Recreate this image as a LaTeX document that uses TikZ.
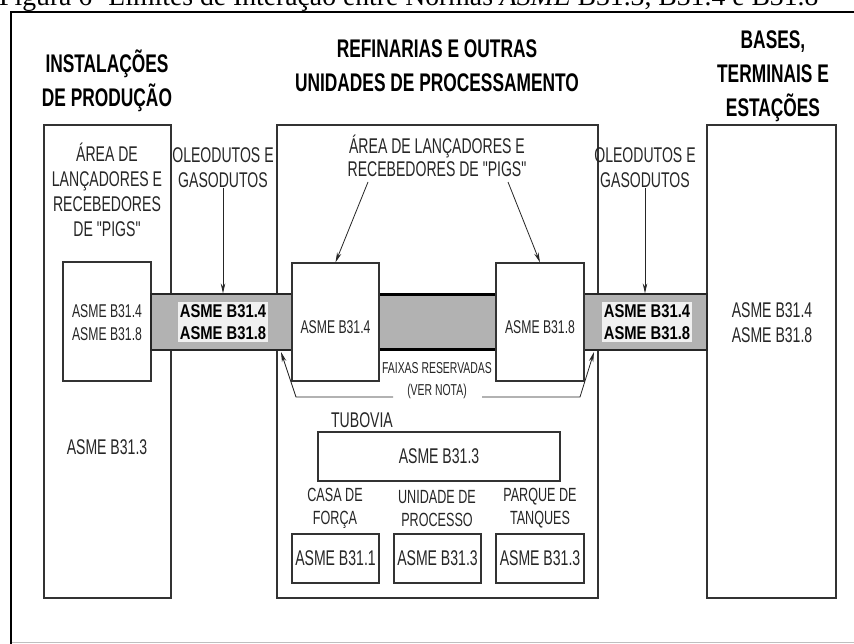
\documentclass[tikz,border=0pt]{standalone}
\usepackage{fontspec}
\setmainfont{Liberation Serif}
\newfontfamily\condsf[FakeStretch=0.66]{Liberation Sans}
\newfontfamily\headsf[FakeStretch=0.68]{Liberation Sans}
\newfontfamily\bandsf[FakeStretch=0.8]{Liberation Sans}
\usetikzlibrary{arrows.meta}

\tikzset{
    box/.style={draw=black!80, line width=1.2pt, fill=white, inner sep=0pt},
    band/.style={draw=black!85, line width=1.2pt, fill=black!30, inner sep=0pt},
    lbl/.style={font=\condsf\fontsize{21.3}{25}\selectfont, align=center, inner sep=0pt, text=black!85},
    smalllbl/.style={font=\condsf\fontsize{18.5}{23}\selectfont, align=center, inner sep=0pt, text=black!85},
    unitlbl/.style={font=\condsf\fontsize{19.1}{23}\selectfont, align=center, inner sep=0pt, text=black!85},
    head/.style={font=\headsf\bfseries\fontsize{25.5}{34}\selectfont, align=center, inner sep=0pt},
    bandlbl/.style={font=\bandsf\bfseries\fontsize{18.5}{22}\selectfont, align=center, fill=black!6, inner sep=2pt},
    arr/.style={-{Stealth[length=10pt,width=4.5pt]}, line width=0.8pt, black!85},
}

\begin{document}
\begin{tikzpicture}[x=1pt, y=-1pt]

    \useasboundingbox (0,0) rectangle (854,644);
    \clip (0,0) rectangle (854,644);

    % Caption and outer frame
    \node[anchor=base west, inner sep=0pt, font=\fontsize{27.7}{30}\selectfont] (caption) at (-1,6)
        {Figura 6- Limites de Interação entre Normas \textit{ASME} B31.3, B31.4 e B31.8};
    \draw[black!25] (11,642) -- (860,642);
    \draw[line width=2pt] (11,650) |- (860,12);

    % Headings of the three areas
    \node[head] (prodhead) at (107,81) {INSTALAÇÕES\\DE PRODUÇÃO};
    \node[head] (refihead) at (437,66) {REFINARIAS E OUTRAS\\UNIDADES DE PROCESSAMENTO};
    \node[head] (basehead) at (773,76) {BASES,\\TERMINAIS E\\ESTAÇÕES};

    % Big boxes
    \node[box, minimum width=127, minimum height=473] (prod) at (107.5,361.5) {};
    \node[box, minimum width=321, minimum height=473] (refi) at (437.5,361.5) {};
    \node[box, minimum width=129, minimum height=473] (base) at (771.5,361.5) {};
    \node[box, minimum width=88, minimum height=119] (prodpig) at (107,321.5) {};

    % Pipeline bands
    \node[band, minimum width=142, minimum height=56] (bandL) at (222,322) {};
    \node[band, minimum width=123, minimum height=56] (bandR) at (645.5,322) {};
    \node[band, draw=none, minimum width=117, minimum height=54] (bandM) at (437.5,322) {};
    \draw[line width=2.6pt] (bandM.north west) -- (bandM.north east);
    \draw[line width=2.6pt] (bandM.south west) -- (bandM.south east);
    \node[bandlbl] (bandLtxt) at (223,322) {ASME B31.4\\ASME B31.8};
    \node[bandlbl] (bandRtxt) at (647,322) {ASME B31.4\\ASME B31.8};

    % Pig launcher boxes in the refinery
    \node[box, minimum width=87, minimum height=118] (b314) at (335.5,322) {};
    \node[box, minimum width=88, minimum height=118] (b318) at (540,322) {};
    \node[smalllbl] (b314txt) at (335.5,327) {ASME B31.4};
    \node[smalllbl] (b318txt) at (540,327) {ASME B31.8};

    % Labels
    \node[lbl] (prodpigtxt) at (107,190) {ÁREA DE\\LANÇADORES E\\RECEBEDORES\\DE "PIGS"};
    \node[smalllbl] (prodpigasme) at (107,323) {ASME B31.4\\ASME B31.8};
    \node[lbl] (prodasme) at (107,447) {ASME B31.3};
    \node[lbl] (oleoL) at (223,167.5) {OLEODUTOS E\\GASODUTOS};
    \node[lbl] (oleoR) at (645,167.5) {OLEODUTOS E\\GASODUTOS};
    \node[lbl, font=\condsf\fontsize{21.3}{23}\selectfont] (refipig) at (437,156) {ÁREA DE LANÇADORES E\\RECEBEDORES DE "PIGS"};
    \node[lbl] (baseasme) at (772,323) {ASME B31.4\\ASME B31.8};
    \node[lbl, font=\condsf\fontsize{15.8}{22}\selectfont] (faixas) at (437,381) {FAIXAS RESERVADAS\\(VER NOTA)};

    % Pipe rack and units
    \node[lbl] (tubovia) at (362,420) {TUBOVIA};
    \node[box, minimum width=242, minimum height=49] (tubo) at (439,456.5) {};
    \node[lbl] (tubotxt) at (tubo) {ASME B31.3};
    \node[unitlbl] (casa) at (335,508) {CASA DE\\FORÇA};
    \node[unitlbl] (unid) at (437,509) {UNIDADE DE\\PROCESSO};
    \node[unitlbl] (parq) at (540,508) {PARQUE DE\\TANQUES};
    \node[box, minimum width=87, minimum height=49] (casabox) at (335.5,558.5) {};
    \node[box, minimum width=87, minimum height=49] (unidbox) at (437.5,558.5) {};
    \node[box, minimum width=88, minimum height=49] (parqbox) at (540,558.5) {};
    \node[lbl] (casatxt) at (casabox) {ASME B31.1};
    \node[lbl] (unidtxt) at (unidbox) {ASME B31.3};
    \node[lbl] (parqtxt) at (parqbox) {ASME B31.3};

    % Arrows
    \draw[arr] (oleoL.south) -- (oleoL.south |- bandL.north);
    \draw[arr] (oleoR.south) -- (oleoR.south |- bandR.north);
    \coordinate (pigfromL) at (368,182);
    \coordinate (pigfromR) at (508,182);
    \draw[arr] (pigfromL) -- (b314.north);
    \draw[arr] (pigfromR) -- (b318.north);

    % Reserved strips bracket
    \coordinate (fxLend) at (393,397);
    \coordinate (fxLcorner) at (296,397);
    \coordinate (fxLtip) at (281,352);
    \coordinate (fxRend) at (482,397);
    \coordinate (fxRcorner) at (580,397);
    \coordinate (fxRtip) at (594,352);
    \draw[arr] (fxLend) -- (fxLcorner) -- (fxLtip);
    \draw[arr] (fxRend) -- (fxRcorner) -- (fxRtip);

\end{tikzpicture}
\end{document}
